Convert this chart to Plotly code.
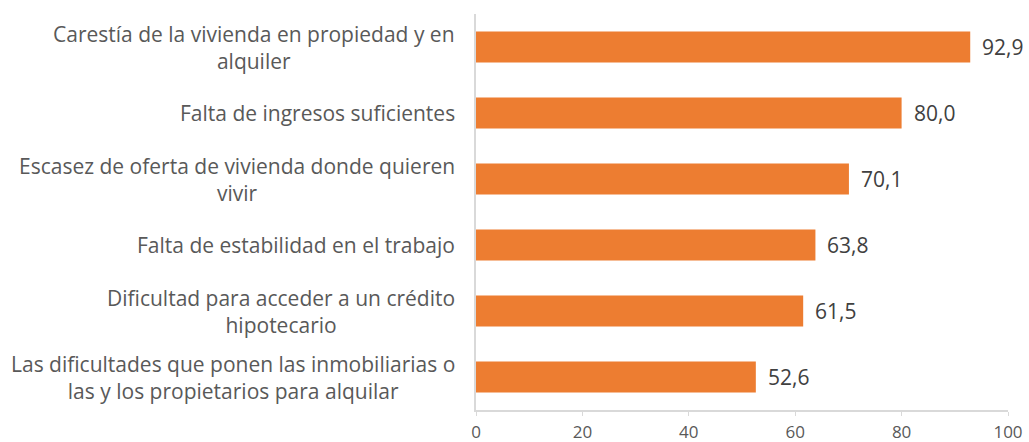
import plotly.graph_objects as go

categories = [
    "Carestía de la vivienda en propiedad y en<br>alquiler",
    "Falta de ingresos suficientes",
    "Escasez de oferta de vivienda donde quieren<br>vivir",
    "Falta de estabilidad en el trabajo",
    "Dificultad para acceder a un crédito<br>hipotecario",
    "Las dificultades que ponen las inmobiliarias o<br>las y los propietarios para alquilar",
]
values = [92.9, 80.0, 70.1, 63.8, 61.5, 52.6]
x_ticks = [0, 20, 40, 60, 80, 100]

BAR_COLOR = "#ED7D31"
AXIS_COLOR = "#D9D9D9"
FONT = "Open Sans"

fig = go.Figure(
    go.Bar(
        x=values,
        y=categories,
        orientation="h",
        marker=dict(color=BAR_COLOR, line=dict(width=0)),
        width=0.47,
        hoverinfo="x+y",
    )
)

# value labels to the right of each bar
for cat, v in zip(categories, values):
    fig.add_annotation(
        x=v, xref="x", y=cat, yref="y",
        text=f"{v:.1f}".replace(".", ","), showarrow=False,
        xanchor="left", yanchor="middle", xshift=10,
        font=dict(family=FONT, size=21, color="#404040"),
    )

# category labels: right-aligned block, lines centred on each other
for cat in categories:
    fig.add_annotation(
        x=0, xref="paper", y=cat, yref="y",
        text=cat, showarrow=False,
        xanchor="right", yanchor="middle", align="center",
        xshift=-19,
        font=dict(family=FONT, size=21, color="#595959"),
    )

fig.update_layout(
    width=1029, height=442,
    margin=dict(l=476, r=21, t=14, b=32, autoexpand=False),
    plot_bgcolor="white", paper_bgcolor="white",
    showlegend=False,
    separators=",.",
)
fig.update_xaxes(
    range=[0, 100], tickvals=x_ticks, showgrid=False, zeroline=False,
    showline=True, linecolor=AXIS_COLOR, linewidth=1.5,
    ticks="outside", ticklen=4, tickcolor=AXIS_COLOR,
    ticklabelstandoff=2, automargin=False,
    tickfont=dict(family=FONT, size=17, color="#595959"),
)
fig.update_yaxes(
    autorange="reversed", showticklabels=False, showgrid=False,
    showline=True, linecolor=AXIS_COLOR, linewidth=1.5, ticks="",
    automargin=False,
)

fig.write_html("out.html")
